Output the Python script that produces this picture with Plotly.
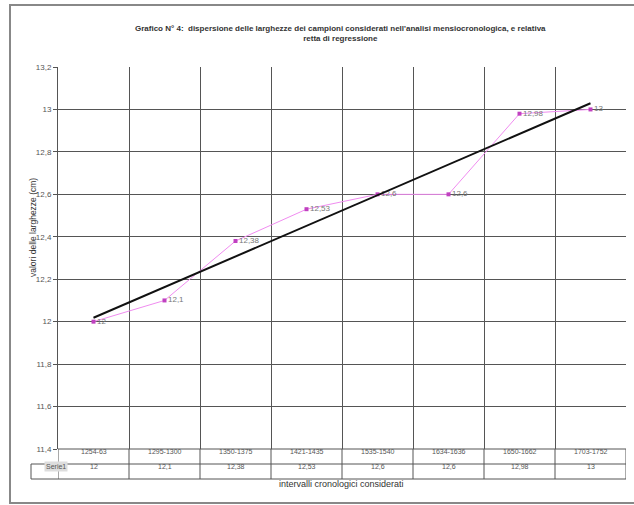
import numpy as np
import plotly.graph_objects as go

categories = ["1254-63", "1295-1300", "1350-1375", "1421-1435", "1535-1540", "1634-1636", "1650-1662", "1703-1752"]
values = [12, 12.1, 12.38, 12.53, 12.6, 12.6, 12.98, 13]
value_labels = ["12", "12,1", "12,38", "12,53", "12,6", "12,6", "12,98", "13"]
ytick_vals = [11.4, 11.6, 11.8, 12.0, 12.2, 12.4, 12.6, 12.8, 13.0, 13.2]
ytick_text = ["11,4", "11,6", "11,8", "12", "12,2", "12,4", "12,6", "12,8", "13", "13,2"]
series_name = "Serie1"

W, H = 634, 505
L, R, T, B = 58, 8, 67, 56
pw, ph = W - L - R, H - T - B

def px(x):
    return (x - L) / pw

def py(y):
    return (H - B - y) / ph

xs = np.arange(1, len(values) + 1)
slope, icpt = np.polyfit(xs, values, 1)
reg = slope * xs + icpt

fig = go.Figure()
fig.add_trace(go.Scatter(
    x=xs, y=values, mode="lines+markers+text",
    line=dict(color="#f08cf0", width=1),
    marker=dict(symbol="square", size=4, color="#c040c0"),
    text=value_labels, textposition="middle right",
    textfont=dict(family="Liberation Sans", size=8, color="#777777"),
    showlegend=False, cliponaxis=False))
fig.add_trace(go.Scatter(
    x=[xs[0], xs[-1]], y=[reg[0], reg[-1]], mode="lines",
    line=dict(color="#111111", width=2), showlegend=False))

grid_c = "#555555"
bounds = np.arange(0.5, len(values) + 1, 1.0)
fig.update_xaxes(range=[0.5, len(values) + 0.5], tickvals=bounds, showticklabels=False,
                 showgrid=True, gridcolor=grid_c, gridwidth=1, zeroline=False,
                 showline=False, ticks="")
fig.update_yaxes(range=[11.4, 13.2], tickvals=ytick_vals, ticktext=ytick_text,
                 showgrid=True, gridcolor=grid_c, gridwidth=1, zeroline=False,
                 showline=True, linecolor=grid_c, ticks="outside", ticklen=4, tickcolor=grid_c,
                 tickfont=dict(family="Liberation Sans", size=8, color="#555555"))

shapes = []
# outer frame
shapes.append(dict(type="rect", xref="paper", yref="paper", x0=px(10), x1=px(640), y0=py(503), y1=py(5),
                   line=dict(color="#888888", width=2)))
# table lines
y_top, y_mid, y_bot = 449, 464, 479
shapes.append(dict(type="line", xref="paper", yref="paper", x0=px(31), x1=px(L + pw), y0=py(y_mid), y1=py(y_mid),
                   line=dict(color=grid_c, width=1)))
shapes.append(dict(type="line", xref="paper", yref="paper", x0=px(31), x1=px(L + pw), y0=py(y_bot), y1=py(y_bot),
                   line=dict(color=grid_c, width=1)))
shapes.append(dict(type="line", xref="paper", yref="paper", x0=px(31), x1=px(31), y0=py(y_mid), y1=py(y_bot),
                   line=dict(color=grid_c, width=1)))
shapes.append(dict(type="line", xref="paper", yref="paper", x0=0, x1=1, y0=0, y1=0,
                   line=dict(color=grid_c, width=1)))
for b in bounds:
    shapes.append(dict(type="line", xref="x", yref="paper", x0=b, x1=b, y0=py(y_bot), y1=0,
                       line=dict(color=grid_c, width=1)))
fig.update_layout(shapes=shapes)

ann = []
for i, (c, v) in enumerate(zip(categories, value_labels)):
    ann.append(dict(x=i + 1, y=py((y_top + y_mid) / 2), xref="x", yref="paper", text=c, showarrow=False,
                    font=dict(family="Liberation Sans", size=7, color="#555555")))
    ann.append(dict(x=i + 1, y=py((y_mid + y_bot) / 2), xref="x", yref="paper", text=v, showarrow=False,
                    font=dict(family="Liberation Sans", size=7, color="#555555")))
ann.append(dict(x=px(44), y=py((y_mid + y_bot) / 2), xref="paper", yref="paper", text=series_name, showarrow=False,
                font=dict(family="Liberation Sans", size=7, color="#555555"), bgcolor="#dddddd"))
ann.append(dict(x=px(341), y=py(491), xref="paper", yref="paper",
                text="intervalli cronologici considerati", showarrow=False,
                font=dict(family="Liberation Sans", size=9, color="#333333")))
ann.append(dict(x=px(26), y=py(228), xref="paper", yref="paper", textangle=-90,
                text="valori delle larghezze (cm)", showarrow=False,
                font=dict(family="Liberation Sans", size=8.5, color="#333333")))
ann.append(dict(x=px(340), y=py(22), xref="paper", yref="paper",
                text="<b>Grafico N° 4:  dispersione delle larghezze dei campioni considerati nell'analisi mensiocronologica, e relativa<br>retta di regressione</b>",
                showarrow=False, font=dict(family="Liberation Sans", size=8, color="#333333")))
fig.update_layout(annotations=ann)

fig.update_layout(width=W, height=H, margin=dict(l=L, r=R, t=T, b=B, autoexpand=False),
                  paper_bgcolor="white", plot_bgcolor="white")
fig.write_html("out.html", config={"displayModeBar": False},
               post_script="document.body.style.margin='0';document.body.style.overflow='hidden';")
